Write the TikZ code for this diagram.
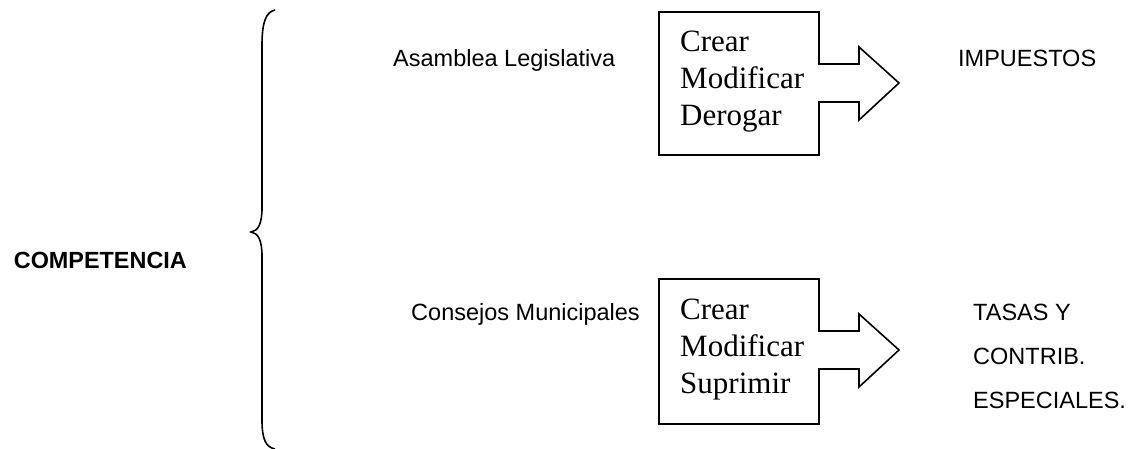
\documentclass[tikz,border=0pt]{standalone}
\usepackage{fontspec}
\setmainfont{Liberation Serif}
\setsansfont{Liberation Sans}
\begin{document}
\begin{tikzpicture}[x=1pt,y=-1pt,
  sans/.style={font=\sffamily\fontsize{23.5}{28}\selectfont, inner sep=0pt, anchor=base west},
  bsans/.style={font=\sffamily\bfseries\fontsize{23.4}{28}\selectfont, inner sep=0pt, anchor=base east},
  serif/.style={font=\rmfamily\fontsize{31}{37}\selectfont, inner sep=0pt, anchor=base west},
  arrowbox/.style={draw=black, line width=1.6pt, line join=miter},
  brace/.style={draw=black, line width=1.6pt}]
\useasboundingbox (0,0) rectangle (1138,449);
% brace
\coordinate (btop) at (275,10);
\coordinate (btip) at (251,232);
\coordinate (bbot) at (275,449);
\draw[brace] (btop) .. controls (266,12) and (262,22) .. (262,45) -- (262,208)
  .. controls (262,224) and (258,231) .. (btip)
  .. controls (258,233) and (262,240) .. (262,256) -- (262,420)
  .. controls (262,440) and (266,447) .. (bbot);
\node[bsans] (comp) at (187,269) {COMPETENCIA};
% row 1
\node[sans] (asam) at (393,67) {Asamblea Legislativa};
\draw[arrowbox] (659,12) -- (819,12) -- (819,64) -- (859,64) -- (859,47) -- (899,83)
  -- (859,120) -- (859,102) -- (819,102) -- (819,155) -- (659,155) -- cycle;
\node[serif] (c1) at (680,52) {Crear};
\node[serif] (m1) at (680,89) {Modificar};
\node[serif] (d1) at (680,126) {Derogar};
\node[sans] (imp) at (958,67) {IMPUESTOS};
% row 2
\node[sans, anchor=base east] (cons) at (640,320) {Consejos Municipales};
\draw[arrowbox] (659,279) -- (819,279) -- (819,331) -- (859,331) -- (859,314) -- (899,350)
  -- (859,387) -- (859,369) -- (819,369) -- (819,424) -- (659,424) -- cycle;
\node[serif] (c2) at (680,319) {Crear};
\node[serif] (m2) at (680,356) {Modificar};
\node[serif] (s2) at (680,393) {Suprimir};
\node[sans] (tas) at (973,320) {TASAS Y};
\node[sans] (con) at (973,364) {CONTRIB.};
\node[sans] (esp) at (973,408) {ESPECIALES.};
\end{tikzpicture}
\end{document}
